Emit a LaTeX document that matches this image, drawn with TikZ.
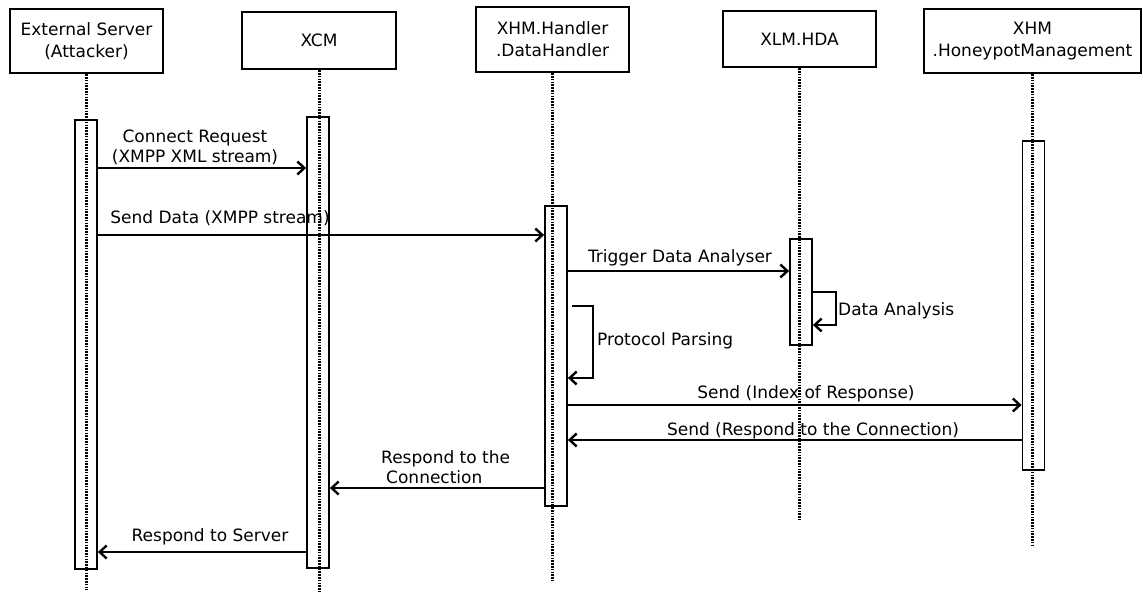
\documentclass[tikz,border=0pt]{standalone}
\usepackage{fontspec}
\setmainfont{DejaVu Sans}
\usetikzlibrary{arrows.meta}
\begin{document}
\begin{tikzpicture}[x=1pt,y=-1pt,
  head/.style={draw,line width=2.3pt,align=center,inner sep=0pt,font=\fontsize{17}{22}\selectfont},
  act/.style={draw,line width=1.8pt,inner sep=0pt,minimum width=22pt},
  life/.style={line width=3pt,dash pattern=on 1.6pt off 1.2pt},
  msg/.style={line width=2.4pt,-{Straight Barb[length=7pt,width=13pt,line width=2.4pt]}},
  lbl/.style={font=\fontsize{17}{20}\selectfont,inner sep=0pt,align=center}]
\useasboundingbox (0,0) rectangle (1143,592);
% heads
\node[head,minimum width=153pt,minimum height=64pt] (ext) at (86.5,41) {External Server\\(Attacker)};
\node[head,minimum width=154pt,minimum height=57pt] (xcm) at (319,40.5) {XCM};
\node[head,minimum width=153pt,minimum height=65pt] (dh) at (552.5,39.5) {XHM.Handler\\.DataHandler};
\node[head,minimum width=153pt,minimum height=56pt] (hda) at (799.5,39) {XLM.HDA};
\node[head,minimum width=217pt,minimum height=64pt] (hm) at (1032.5,41) {XHM\\.HoneypotManagement};
% lifeline ends
\coordinate (e1) at (86.5,590);
\coordinate (e2) at (319,592);
\coordinate (e3) at (552.5,580);
\coordinate (e4) at (799.5,520);
\coordinate (e5) at (1032.5,545);
\draw[life] (ext.south) -- (e1);
\draw[life] (xcm.south) -- (e2);
\draw[life] (dh.south) -- (e3);
\draw[life] (hda.south) -- (e4);
\draw[life] (hm.south) -- (e5);
% activations
\node[act,minimum height=449pt] (a1) at (86,344.5) {};
\node[act,minimum height=451pt] (a2) at (318,342.5) {};
\node[act,minimum height=300pt] (a3) at (556,356) {};
\node[act,minimum height=106pt] (a4) at (801,292) {};
\node[act,minimum height=329pt] (a5) at (1033.5,305.5) {};
% messages
\draw[msg] (a1.east |- 0,168) -- (a2.west |- 0,168);
\node[lbl] (l1) at (195,147) {Connect Request\\(XMPP XML stream)};
\draw[msg] (a1.east |- 0,235) -- (a3.west |- 0,235);
\node[lbl] (l2) at (220,218) {Send Data (XMPP stream)};
\draw[msg] (a3.east |- 0,271) -- (a4.west |- 0,271);
\node[lbl] (l3) at (680,258) {Trigger Data Analyser};
\draw[msg] (a4.east |- 0,292) -- ++(23,0) |- (a4.east |- 0,325);
\node[lbl,anchor=west] (l4) at (838,311) {Data Analysis};
\draw[msg] ([xshift=4pt]a3.east |- 0,306) -- ++(21,0) |- (a3.east |- 0,378);
\node[lbl,anchor=west] (l5) at (597,341) {Protocol Parsing};
\draw[msg] (a3.east |- 0,405) -- (a5.west |- 0,405);
\node[lbl] (l6) at (806,394) {Send (Index of Response)};
\draw[msg] (a5.west |- 0,440) -- (a3.east |- 0,440);
\node[lbl] (l7) at (813,431) {Send (Respond to the Connection)};
\draw[msg] (a3.west |- 0,488) -- (a2.east |- 0,488);
\node[lbl,align=left,anchor=west] (l8) at (381,467) {Respond to the\\\hspace{5pt}Connection};
\draw[msg] (a2.west |- 0,552) -- (a1.east |- 0,552);
\node[lbl] (l9) at (210,537) {Respond to Server};
\end{tikzpicture}
\end{document}
